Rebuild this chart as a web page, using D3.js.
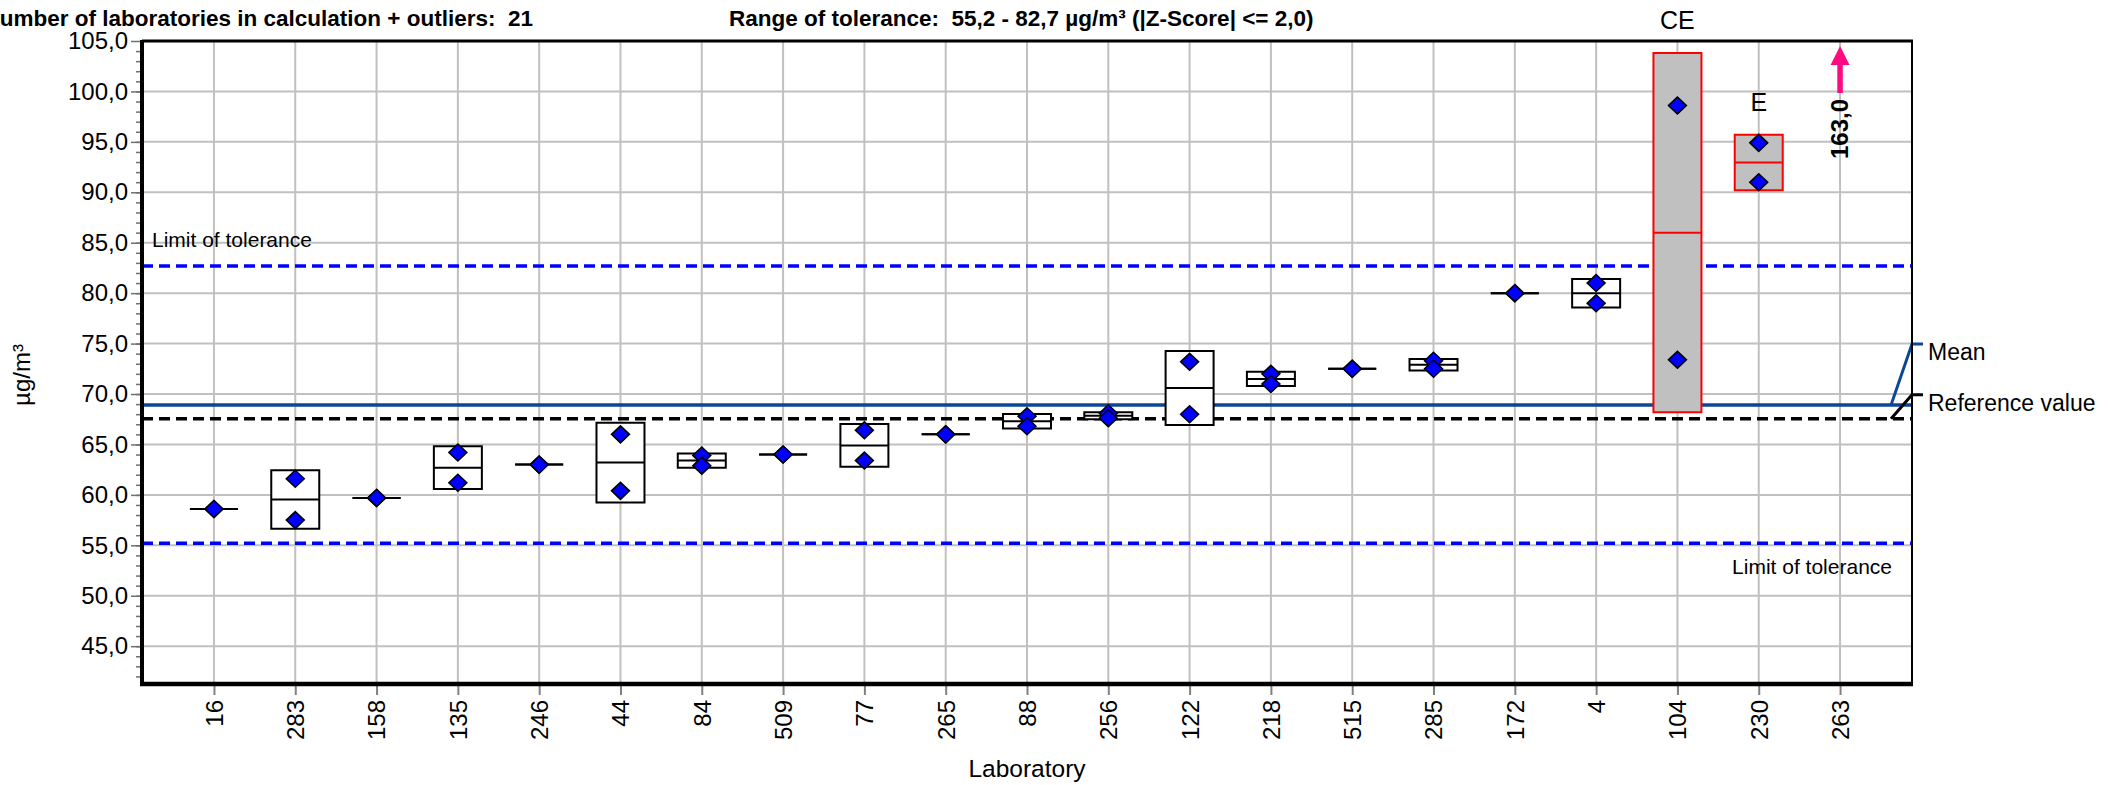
<!DOCTYPE html>
<html lang="en">
  <head>
    <meta charset="utf-8">
    <title>Laboratory results</title>
    <script src="https://d3js.org/d3.v7.min.js"></script>
    <style>
      body { margin: 0; background: #fff; }
      svg text { font-family: Arial, "Liberation Sans", Helvetica, sans-serif; fill: #000; }
    </style>
  </head>
  <body>
    <div id="chart"></div>
    <script>

// Data
var labs  = ["16","283","158","135","246","44","84","509","77","265","88","256","122","218","515","285","172","4","104","230","263"];
var rep1  = [58.6, 61.6, 59.7, 64.2, 63.0, 66.0, 63.9, 64.0, 66.4, 66.0, 67.8, 68.1, 73.2, 72.0, 72.5, 73.3, 80.0, 81.0, 98.6, 94.9, 163.0];
var rep2  = [58.6, 57.5, 59.7, 61.2, 63.0, 60.4, 62.9, 64.0, 63.4, 66.0, 66.8, 67.6, 68.0, 71.0, 72.5, 72.5, 80.0, 79.0, 73.4, 91.0, 163.0];
var flags = ["","","","","","","","","","","","","","","","","","","CE","E",""];

var meanValue = 68.9;
var refValue = 67.55;
var tolLow = 55.2;
var tolHigh = 82.7;
var yTicks = [45, 50, 55, 60, 65, 70, 75, 80, 85, 90, 95, 100, 105];

var w = 2110;
var h = 785;
var margin = {top: 41, right: 198, bottom: 101, left: 142};
var x0 = margin.left, x1 = w - margin.right;
var yTop = margin.top, yBot = h - margin.bottom;

var fmt = d3.formatLocale({decimal: ",", thousands: ".", grouping: [3], currency: ["", ""]}).format(".1f");

// one row per lab, box = mean +/- sd of the two replicates
var rows = labs.map(function(lab, i) {
  var vals = [rep1[i], rep2[i]];
  var m = d3.mean(vals);
  var sd = d3.deviation(vals) || 0;
  return {lab: lab, vals: vals, mean: m, lo: m - sd, hi: m + sd, flag: flags[i]};
});

//Scales
var xScale = d3.scalePoint()
  .domain(labs)
  .range([x0, x1])
  .padding(0.885);

var yScale = d3.scaleLinear()
  .domain([41.25, 105])
  .range([yBot, yTop]);

var yMax = yScale.domain()[1];

var svg = d3.select("#chart")
  .append("svg")
    .attr("width", w)
    .attr("height", h);

// grid
svg.append("g")
  .selectAll("line")
  .data(yTicks.slice(0, -1))
  .enter().append("line")
    .attr("x1", x0).attr("x2", x1)
    .attr("y1", d => yScale(d)).attr("y2", d => yScale(d))
    .attr("stroke", "#c0c0c0").attr("stroke-width", 2);

svg.append("g")
  .selectAll("line")
  .data(labs)
  .enter().append("line")
    .attr("x1", d => xScale(d)).attr("x2", d => xScale(d))
    .attr("y1", yTop).attr("y2", yBot)
    .attr("stroke", "#c0c0c0").attr("stroke-width", 2);

// tolerance, mean and reference lines
function hline(v, color, dash) {
  svg.append("line")
    .attr("x1", x0).attr("x2", x1)
    .attr("y1", yScale(v)).attr("y2", yScale(v))
    .attr("stroke", color)
    .attr("stroke-width", 3.5)
    .attr("stroke-dasharray", dash);
}
hline(tolHigh, "#0000ff", "11,6");
hline(tolLow, "#0000ff", "11,6");
hline(meanValue, "#0a4796", null);
hline(refValue, "#000000", "11,6");

svg.append("text")
  .attr("x", x0 + 10).attr("y", yScale(tolHigh) - 19)
  .style("font-size", "21px")
  .text("Limit of tolerance");

svg.append("text")
  .attr("x", x1 - 20).attr("y", yScale(tolLow) + 31)
  .attr("text-anchor", "end")
  .style("font-size", "21px")
  .text("Limit of tolerance");

// leaders for mean / reference value
var legend = [
  {v: meanValue, text: "Mean", color: "#0a4796", dy: -61},
  {v: refValue, text: "Reference value", color: "#000000", dy: -24}
];
legend.forEach(function(d) {
  var ly = yScale(d.v) + d.dy;
  svg.append("path")
    .attr("d", d3.line()([[x1 - 21, yScale(d.v)], [x1, ly], [x1 + 11, ly]]))
    .attr("fill", "none")
    .attr("stroke", d.color)
    .attr("stroke-width", 3);
  svg.append("text")
    .attr("x", x1 + 16).attr("y", ly + 16)
    .style("font-size", "23px")
    .text(d.text);
});

// boxes
var inRange = rows.filter(d => d.hi <= yMax);
var boxW = 48;

svg.append("g")
  .selectAll("path")
  .data(inRange)
  .enter().append("path")
    .attr("d", function(d) {
      var cx = xScale(d.lab);
      return "M" + (cx - boxW / 2) + "," + yScale(d.hi) + "H" + (cx + boxW / 2) +
             "V" + yScale(d.lo) + "H" + (cx - boxW / 2) + "Z";
    })
    .attr("fill", d => d.flag ? "#c0c0c0" : "#ffffff")
    .attr("stroke", d => d.flag ? "#ff0000" : "#000000")
    .attr("stroke-width", 2);

svg.append("g")
  .selectAll("line")
  .data(inRange)
  .enter().append("line")
    .attr("x1", d => xScale(d.lab) - boxW / 2)
    .attr("x2", d => xScale(d.lab) + boxW / 2)
    .attr("y1", d => yScale(d.mean)).attr("y2", d => yScale(d.mean))
    .attr("stroke", d => d.flag ? "#ff0000" : "#000000")
    .attr("stroke-width", 2);

// replicate values
var points = [];
inRange.forEach(d => d.vals.forEach(v => points.push({lab: d.lab, v: v})));

svg.append("g")
  .selectAll("path")
  .data(points)
  .enter().append("path")
    .attr("transform", d => `translate(${xScale(d.lab)},${yScale(d.v)})`)
    .attr("d", "M0,-8.5L9,0L0,8.5L-9,0Z")
    .attr("fill", "#0000ff")
    .attr("stroke", "#000")
    .attr("stroke-width", 1.5);

// outlier flags
svg.append("g")
  .selectAll("text")
  .data(inRange.filter(d => d.flag))
  .enter().append("text")
    .attr("x", d => xScale(d.lab))
    .attr("y", d => yScale(d.hi) - 24)
    .attr("text-anchor", "middle")
    .style("font-size", "25px")
    .text(d => d.flag);

// values above the scale
var offScale = rows.filter(d => d.hi > yMax);
offScale.forEach(function(d) {
  var cx = xScale(d.lab);
  svg.append("line")
    .attr("x1", cx).attr("x2", cx)
    .attr("y1", yTop + 52).attr("y2", yTop + 20)
    .attr("stroke", "#ff0a80").attr("stroke-width", 5.5);
  svg.append("path")
    .attr("d", `M${cx},${yTop + 5}L${cx + 9.5},${yTop + 24}L${cx - 9.5},${yTop + 24}Z`)
    .attr("fill", "#ff0a80");
  svg.append("text")
    .attr("transform", `translate(${cx},${yTop + 118}) rotate(-90)`)
    .attr("dy", "0.35em")
    .style("font-size", "24px")
    .style("font-weight", "bold")
    .text(fmt(d.mean));
});

// axes
var yAxis = d3.axisLeft(yScale)
  .tickValues(yTicks)
  .tickSize(11)
  .tickPadding(3)
  .tickFormat(fmt);

var yMinor = d3.axisLeft(yScale)
  .tickValues(d3.range(42, 105, 1))
  .tickSize(6)
  .tickFormat("");

svg.append("g")
  .attr("transform", `translate(${x0},0)`)
  .call(yMinor)
  .call(g => g.select(".domain").remove())
  .call(g => g.selectAll("line").attr("stroke", "#707070").attr("stroke-width", 1.5));

svg.append("g")
  .attr("id", "yAxis")
  .attr("transform", `translate(${x0},0)`)
  .call(yAxis)
  .call(g => g.select(".domain").remove())
  .call(g => g.selectAll("line").attr("stroke", "#707070").attr("stroke-width", 1.5))
  .call(g => g.selectAll("text").style("font-size", "24px").style("font-family", "Arial, 'Liberation Sans', sans-serif"));

var xAxis = d3.axisBottom(xScale)
  .tickSize(11)
  .tickSizeOuter(0);

svg.append("g")
  .attr("id", "xAxis")
  .attr("transform", `translate(0,${yBot})`)
  .call(xAxis)
  .call(g => g.select(".domain").remove())
  .call(g => g.selectAll("line").attr("stroke", "#808080").attr("stroke-width", 2))
  .call(g => g.selectAll("text")
    .attr("transform", "rotate(-90)")
    .attr("x", -16).attr("y", 0)
    .attr("dy", "0.35em")
    .attr("text-anchor", "end")
    .style("font-size", "24px")
    .style("font-family", "Arial, 'Liberation Sans', sans-serif"));

// frame
svg.append("line").attr("x1", x0).attr("x2", x1 + 1).attr("y1", yTop).attr("y2", yTop)
  .attr("stroke", "#000").attr("stroke-width", 3);
svg.append("line").attr("x1", x1).attr("x2", x1).attr("y1", yTop).attr("y2", yBot)
  .attr("stroke", "#000").attr("stroke-width", 2);
svg.append("line").attr("x1", x0).attr("x2", x0).attr("y1", yTop - 1).attr("y2", yBot + 2)
  .attr("stroke", "#000").attr("stroke-width", 4);
svg.append("line").attr("x1", x0 - 2).attr("x2", x1 + 1).attr("y1", yBot).attr("y2", yBot)
  .attr("stroke", "#000").attr("stroke-width", 4.5);

// titles
svg.append("text")
  .attr("x", (x0 + x1) / 2).attr("y", h - 8)
  .attr("text-anchor", "middle")
  .style("font-size", "24.5px")
  .text("Laboratory");

svg.append("text")
  .attr("transform", `translate(30,375) rotate(-90)`)
  .attr("text-anchor", "middle")
  .style("font-size", "24px")
  .text("µg/m³");

svg.append("text")
  .attr("x", -16.5).attr("y", 26)
  .style("font-size", "22.5px")
  .style("font-weight", "bold")
  .style("white-space", "pre")
  .text("Number of laboratories in calculation + outliers:  " + labs.length);

svg.append("text")
  .attr("x", 729).attr("y", 26)
  .style("font-size", "22.5px")
  .style("font-weight", "bold")
  .style("white-space", "pre")
  .text("Range of tolerance:  " + fmt(tolLow) + " - " + fmt(tolHigh) + " µg/m³ (|Z-Score| <= 2,0)");

    </script>
  </body>
</html>
